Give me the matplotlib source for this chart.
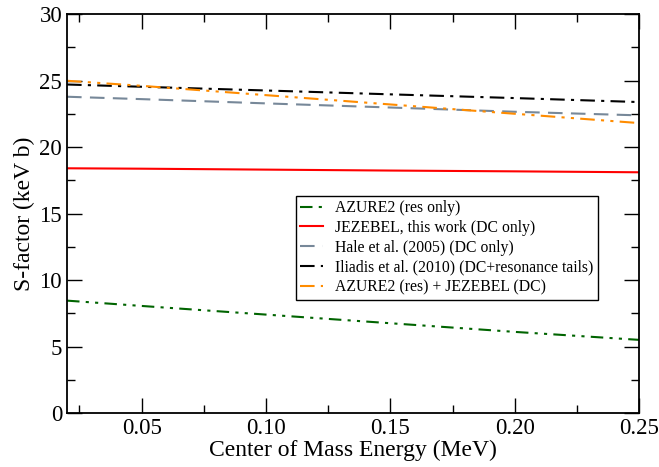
import numpy as np
import matplotlib.pyplot as plt
from matplotlib.ticker import MultipleLocator

plt.rcParams['font.family'] = 'Liberation Serif'
plt.rcParams['mathtext.fontset'] = 'stix'

# S-factor curves vs. center of mass energy
energy = [0.02, 0.05, 0.10, 0.15, 0.20, 0.25]

azure_res = [8.45, 8.05, 7.40, 6.75, 6.10, 5.50]
jezebel_dc = [18.40, 18.37, 18.30, 18.23, 18.17, 18.10]
hale_2005 = [23.78, 23.60, 23.28, 22.97, 22.65, 22.38]
iliadis_2010 = [24.70, 24.53, 24.25, 23.96, 23.68, 23.38]
azure_plus_jezebel = [24.98, 24.60, 23.90, 23.20, 22.50, 21.80]

labels = ['AZURE2 (res only)',
          'JEZEBEL, this work (DC only)',
          'Hale et al. (2005) (DC only)',
          'Iliadis et al. (2010) (DC+resonance tails)',
          'AZURE2 (res) + JEZEBEL (DC)']

fig = plt.figure(figsize=(6.59, 4.67), dpi=100)
ax = fig.add_axes([0.1017, 0.1156, 0.8680, 0.8544])

lw = 1.5
ax.plot(energy, azure_res, color='darkgreen', lw=lw, dashes=(6, 3, 1.5, 3, 1.5, 3), label=labels[0])
ax.plot(energy, jezebel_dc, color='red', lw=lw, label=labels[1])
ax.plot(energy, hale_2005, color='lightslategray', lw=lw, dashes=(7, 4), label=labels[2])
ax.plot(energy, iliadis_2010, color='black', lw=lw, dashes=(7, 3, 1.5, 3), label=labels[3])
ax.plot(energy, azure_plus_jezebel, color='darkorange', lw=lw, dashes=(7, 3, 1.5, 3, 1.5, 3), label=labels[4])

ax.set_xlim(0.02, 0.25)
ax.set_ylim(0, 30)
ax.xaxis.set_major_locator(MultipleLocator(0.05))
ax.xaxis.set_minor_locator(MultipleLocator(0.025))
ax.yaxis.set_major_locator(MultipleLocator(5))
ax.yaxis.set_minor_locator(MultipleLocator(2.5))
ax.xaxis.set_major_formatter(plt.FuncFormatter(lambda v, p: '%.2f' % v))

ax.tick_params(which='both', direction='in', top=True, right=True, labelsize=16.5, width=1)
ax.tick_params(which='major', length=11)
ax.tick_params(which='minor', length=6)
for s in ax.spines.values():
    s.set_linewidth(1.3)

ax.set_xlabel('Center of Mass Energy (MeV)', fontsize=17, labelpad=1)
ax.set_ylabel('S-factor (keV b)', fontsize=17, labelpad=3)

leg = ax.legend(loc='lower left', bbox_to_anchor=(0.40, 0.283), borderaxespad=0,
                fontsize=11.3, handlelength=1.45, handletextpad=0.75,
                labelspacing=0.25, borderpad=0.28, fancybox=False,
                framealpha=1, edgecolor='black')
leg.get_frame().set_linewidth(1.0)

plt.savefig('out.png', dpi=100)
